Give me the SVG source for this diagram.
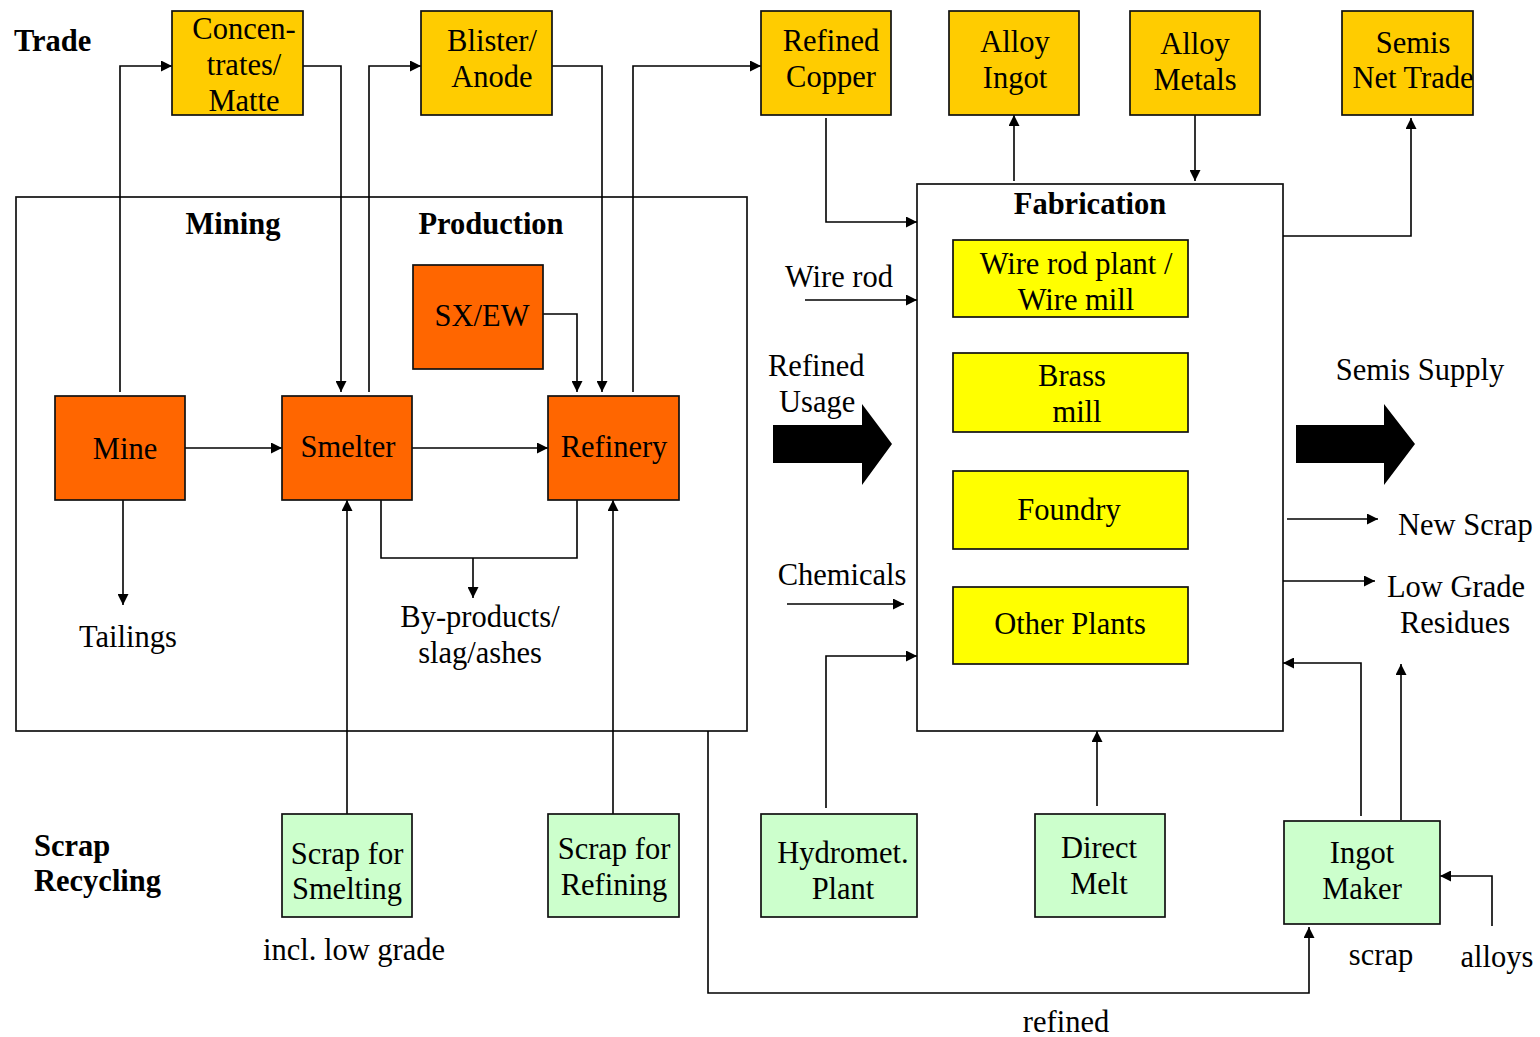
<svg xmlns="http://www.w3.org/2000/svg" width="1540" height="1037" viewBox="0 0 1540 1037">
<defs>
<marker id="ah" viewBox="0 0 10 10" refX="10" refY="5" markerWidth="13" markerHeight="11" markerUnits="userSpaceOnUse" orient="auto">
<path d="M0,0 L10,5 L0,10 z" fill="#000"/>
</marker>
</defs>
<style>
text{font-family:"Liberation Serif","Times New Roman",serif;font-size:30.5px;fill:#000;text-anchor:middle}
.b{font-weight:bold}
.l{text-anchor:start}
.box{stroke:#111;stroke-width:1.7}
.trade{fill:#FFCC00}
.proc{fill:#FF6600}
.fab{fill:#FFFF00}
.scrap{fill:#CCFFCC}
.frame{fill:none;stroke:#111;stroke-width:1.7}
.c{fill:none;stroke:#000;stroke-width:1.6}
.a{marker-end:url(#ah)}
</style>
<rect width="1540" height="1037" fill="#fff"/>

<g id="frames">
<rect id="mining-production" class="frame" x="16" y="197" width="731" height="534"/>
<rect id="fabrication" class="frame" x="917" y="184" width="366" height="547"/>
</g>

<g id="connectors">
<path class="c a" d="M120,392 V66 H172"/>
<path class="c a" d="M303,66 H341 V392"/>
<path class="c a" d="M369,392 V66 H421"/>
<path class="c a" d="M552,66 H602 V392"/>
<path class="c a" d="M633,392 V66 H761"/>
<path class="c a" d="M540,314 H577 V392"/>
<path class="c a" d="M185,448 H282"/>
<path class="c a" d="M412,448 H548"/>
<path class="c a" d="M123,500 V605"/>
<path class="c" d="M381,497 V558 H577 V497"/>
<path class="c a" d="M473,558 V598"/>
<path class="c a" d="M347,814 V500"/>
<path class="c a" d="M613,814 V500"/>
<path class="c a" d="M826,118 V222 H917"/>
<path class="c a" d="M1014,181 V115"/>
<path class="c a" d="M1195,115 V181"/>
<path class="c a" d="M1283,236 H1411 V118"/>
<path class="c a" d="M805,300 H917"/>
<path class="c a" d="M787,604 H904"/>
<path class="c a" d="M826,808 V656 H917"/>
<path class="c a" d="M1097,806 V731"/>
<path class="c a" d="M1361,816 V663 H1283"/>
<path class="c a" d="M1401,820 V664"/>
<path class="c a" d="M1492,926 V876 H1440"/>
<path class="c a" d="M708,731 V993 H1309 V927"/>
<path class="c a" d="M1287,519 H1378"/>
<path class="c a" d="M1283,581 H1375"/>
<polygon id="refined-usage-arrow" points="773,425 862,425 862,404 892,444 862,485 862,463 773,463" fill="#000"/>
<polygon id="semis-supply-arrow" points="1296,425 1384,425 1384,404 1415,444 1384,485 1384,463 1296,463" fill="#000"/>
</g>

<g id="labels">
<text class="b l" x="14" y="51">Trade</text>
<text class="b" x="233" y="234">Mining</text>
<text class="b" x="491" y="234">Production</text>
<text class="b" x="1090" y="214">Fabrication</text>
<text class="b l" x="34" y="856">Scrap</text>
<text class="b l" x="34" y="891">Recycling</text>
<text x="128" y="647">Tailings</text>
<text x="480" y="627">By-products/</text>
<text x="480" y="663">slag/ashes</text>
<text x="839" y="287">Wire rod</text>
<text class="l" x="768" y="376">Refined</text>
<text class="l" x="779" y="412">Usage</text>
<text x="842" y="585">Chemicals</text>
<text x="1420" y="380">Semis Supply</text>
<text class="l" x="1398" y="535">New Scrap</text>
<text x="1456" y="597">Low Grade</text>
<text x="1455" y="633">Residues</text>
<text x="354" y="960">incl. low grade</text>
<text x="1381" y="965">scrap</text>
<text x="1497" y="967">alloys</text>
<text x="1066" y="1032">refined</text>
</g>

<g id="concentrates">
<rect class="box trade" x="172" y="11" width="131" height="104"/>
<text x="244" y="39">Concen-</text>
<text x="244" y="75">trates/</text>
<text x="244" y="111">Matte</text>
</g>
<g id="blister">
<rect class="box trade" x="421" y="11" width="131" height="104"/>
<text x="492" y="51">Blister/</text>
<text x="492" y="87">Anode</text>
</g>
<g id="refined-copper">
<rect class="box trade" x="761" y="11" width="130" height="104"/>
<text x="831" y="51">Refined</text>
<text x="831" y="87">Copper</text>
</g>
<g id="alloy-ingot">
<rect class="box trade" x="949" y="11" width="130" height="104"/>
<text x="1015" y="52">Alloy</text>
<text x="1015" y="88">Ingot</text>
</g>
<g id="alloy-metals">
<rect class="box trade" x="1130" y="11" width="130" height="104"/>
<text x="1195" y="54">Alloy</text>
<text x="1195" y="90">Metals</text>
</g>
<g id="semis-net-trade">
<rect class="box trade" x="1342" y="11" width="131" height="104"/>
<text x="1413" y="53">Semis</text>
<text x="1413" y="88">Net Trade</text>
</g>

<g id="sxew">
<rect class="box proc" x="413" y="265" width="130" height="104"/>
<text x="482" y="326">SX/EW</text>
</g>
<g id="mine">
<rect class="box proc" x="55" y="396" width="130" height="104"/>
<text x="125" y="459">Mine</text>
</g>
<g id="smelter">
<rect class="box proc" x="282" y="396" width="130" height="104"/>
<text x="348" y="457">Smelter</text>
</g>
<g id="refinery">
<rect class="box proc" x="548" y="396" width="131" height="104"/>
<text x="614" y="457">Refinery</text>
</g>

<g id="wire-rod-plant">
<rect class="box fab" x="953" y="240" width="235" height="77"/>
<text x="1076" y="274">Wire rod plant /</text>
<text x="1076" y="310">Wire mill</text>
</g>
<g id="brass-mill">
<rect class="box fab" x="953" y="353" width="235" height="79"/>
<text x="1072" y="386">Brass</text>
<text x="1077" y="422">mill</text>
</g>
<g id="foundry">
<rect class="box fab" x="953" y="471" width="235" height="78"/>
<text x="1069" y="520">Foundry</text>
</g>
<g id="other-plants">
<rect class="box fab" x="953" y="587" width="235" height="77"/>
<text x="1070" y="634">Other Plants</text>
</g>

<g id="scrap-smelting">
<rect class="box scrap" x="282" y="814" width="130" height="103"/>
<text x="347" y="864">Scrap for</text>
<text x="347" y="899">Smelting</text>
</g>
<g id="scrap-refining">
<rect class="box scrap" x="548" y="814" width="131" height="103"/>
<text x="614" y="859">Scrap for</text>
<text x="614" y="895">Refining</text>
</g>
<g id="hydromet">
<rect class="box scrap" x="761" y="814" width="156" height="103"/>
<text x="843" y="863">Hydromet.</text>
<text x="843" y="899">Plant</text>
</g>
<g id="direct-melt">
<rect class="box scrap" x="1035" y="814" width="130" height="103"/>
<text x="1099" y="858">Direct</text>
<text x="1099" y="894">Melt</text>
</g>
<g id="ingot-maker">
<rect class="box scrap" x="1284" y="821" width="156" height="103"/>
<text x="1362" y="863">Ingot</text>
<text x="1362" y="899">Maker</text>
</g>
</svg>
